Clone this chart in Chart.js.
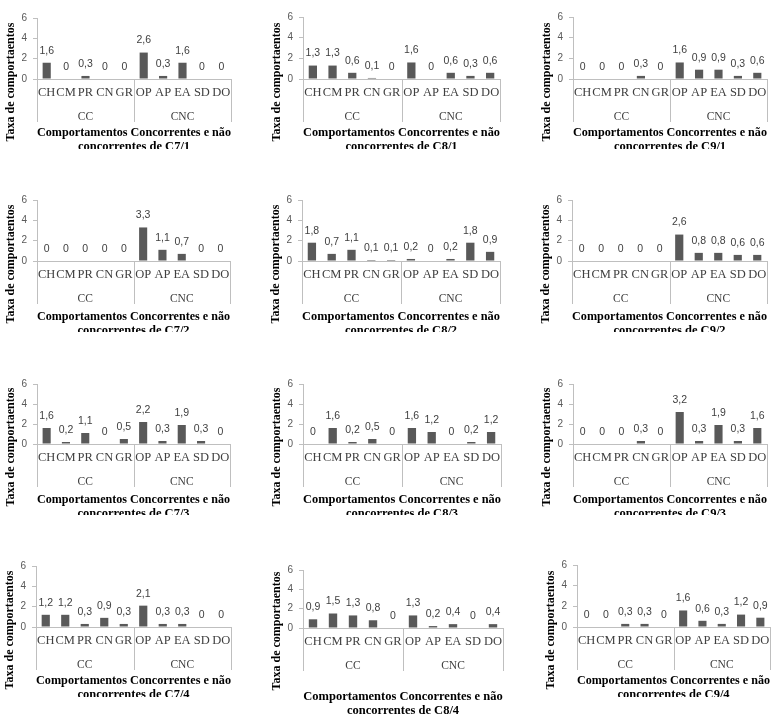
<!DOCTYPE html>
<html><head><meta charset="utf-8">
<script src="https://cdn.jsdelivr.net/npm/chart.js@4.4.0/dist/chart.umd.min.js"></script>
<style>
html,body{margin:0;padding:0;background:#fff;}
body{width:774px;height:714px;position:relative;overflow:hidden;}
.w{position:absolute;overflow:hidden;}
canvas{display:block;}
</style></head><body>
<script>
// ---------- data ----------
const categories = ['CH','CM','PR','CN','GR','OP','AP','EA','SD','DO'];
const groups = ['CC','CNC'];
const groupSizes = [5,5];
const yTitle = 'Taxa de comportaentos';
const xTitleLine1 = 'Comportamentos Concorrentes e não';
const panelNames = ['C7/1','C8/1','C9/1','C7/2','C8/2','C9/2','C7/3','C8/3','C9/3','C7/4','C8/4','C9/4'];

const c7_1 = [1.6,0,0.3,0,0,2.6,0.3,1.6,0,0];
const c8_1 = [1.3,1.3,0.6,0.1,0,1.6,0,0.6,0.3,0.6];
const c9_1 = [0,0,0,0.3,0,1.6,0.9,0.9,0.3,0.6];
const c7_2 = [0,0,0,0,0,3.3,1.1,0.7,0,0];
const c8_2 = [1.8,0.7,1.1,0.1,0.1,0.2,0,0.2,1.8,0.9];
const c9_2 = [0,0,0,0,0,2.6,0.8,0.8,0.6,0.6];
const c7_3 = [1.6,0.2,1.1,0,0.5,2.2,0.3,1.9,0.3,0];
const c8_3 = [0,1.6,0.2,0.5,0,1.6,1.2,0,0.2,1.2];
const c9_3 = [0,0,0,0.3,0,3.2,0.3,1.9,0.3,1.6];
const c7_4 = [1.2,1.2,0.3,0.9,0.3,2.1,0.3,0.3,0,0];
const c8_4 = [0.9,1.5,1.3,0.8,0,1.3,0.2,0.4,0,0.4];
const c9_4 = [0,0,0.3,0.3,0,1.6,0.6,0.3,1.2,0.9];
const panelValues = [c7_1,c8_1,c9_1,c7_2,c8_2,c9_2,c7_3,c8_3,c9_3,c7_4,c8_4,c9_4];

// ---------- layout (plot area boxes) ----------
const boxes = [
  {L:37, T:18, B:79, R:231, clip:70, tpb:15},
  {L:303,T:17, B:79, R:500, clip:70, tpb:15},
  {L:573,T:17, B:79, R:767, clip:70, tpb:15},
  {L:37, T:200,B:261,R:230, clip:71, tpb:13},
  {L:302,T:200,B:261,R:500, clip:71, tpb:13},
  {L:572,T:200,B:261,R:767, clip:71, tpb:13},
  {L:37, T:384,B:444,R:230, clip:71, tpb:13},
  {L:303,T:384,B:444,R:501, clip:71, tpb:13},
  {L:573,T:384,B:444,R:767, clip:71, tpb:13},
  {L:36, T:566,B:627,R:231, clip:70, tpb:15},
  {L:303,T:570,B:628,R:503, clip:90, tpb:0},
  {L:577,T:565,B:627,R:770, clip:70, tpb:15}
];

const SERIF = '"Liberation Serif", "Times New Roman", serif';
const SANS = '"Liberation Sans", Arial, sans-serif';
const AX = '#bfbfbf';
const TXT = '#404040';
const BAR = '#595959';
const PADL = 40, PADT = 10, EXTRA = 90, X1H = 26;

const sepPlugin = {
  id:'sep',
  afterDraw(chart){
    const {ctx, chartArea:a, scales:{x}} = chart;
    const k = groupSizes[0];
    const mid = (x.getPixelForValue(k-1) + x.getPixelForValue(k)) / 2;
    ctx.save();
    ctx.strokeStyle = AX; ctx.lineWidth = 1;
    [a.left, mid, a.right].forEach(px => {
      const xx = Math.round(px) + 0.5;
      ctx.beginPath(); ctx.moveTo(xx, a.bottom); ctx.lineTo(xx, a.bottom + 43); ctx.stroke();
    });
    ctx.restore();
  }
};
const valuePlugin = {
  id:'vals',
  afterDatasetsDraw(chart){
    const ctx = chart.ctx;
    const meta = chart.getDatasetMeta(0);
    const vals = chart.data.datasets[0].data;
    ctx.save();
    ctx.font = '10.5px ' + SANS;
    ctx.fillStyle = TXT; ctx.textAlign = 'center'; ctx.textBaseline = 'middle';
    meta.data.forEach((el,k) => { ctx.fillText(String(vals[k]).replace('.', ','), el.x, el.y - 12); });
    ctx.restore();
  }
};
const yTitlePlugin = {
  id:'ytitle',
  afterDraw(chart){
    const {ctx, chartArea:a} = chart;
    ctx.save();
    ctx.translate(a.left - 26, a.bottom + 3);
    ctx.rotate(-Math.PI/2);
    ctx.font = 'bold 12px ' + SERIF;
    ctx.fillStyle = '#000'; ctx.textAlign = 'center'; ctx.textBaseline = 'middle';
    ctx.fillText(yTitle, 0, 0);
    ctx.restore();
  }
};

boxes.forEach((p, i) => {
  const plotW = p.R - p.L, plotH = p.B - p.T;
  const W = PADL + plotW + 4, H = PADT + plotH + EXTRA;
  const wrap = document.createElement('div');
  wrap.className = 'w';
  wrap.style.left = (p.L - PADL) + 'px';
  wrap.style.top = (p.T - PADT) + 'px';
  wrap.style.width = W + 'px';
  wrap.style.height = (PADT + plotH + p.clip) + 'px';
  const cv = document.createElement('canvas');
  cv.width = W; cv.height = H;
  cv.style.width = W + 'px'; cv.style.height = H + 'px';
  wrap.appendChild(cv);
  document.body.appendChild(wrap);

  new Chart(cv, {
    type:'bar',
    data:{labels:categories, datasets:[{data:panelValues[i], backgroundColor:BAR, borderWidth:0, categoryPercentage:1, barPercentage:0.42}]},
    options:{
      responsive:false, animation:false, devicePixelRatio:1,
      layout:{padding:{left:0, top:PADT, right:4, bottom:0}},
      plugins:{legend:{display:false}, tooltip:{enabled:false}},
      scales:{
        x:{type:'category', position:'bottom', weight:0, offset:true,
           grid:{display:false, drawTicks:false},
           border:{display:true, color:AX, width:1},
           ticks:{font:{family:SERIF, size:12.5, lineHeight:1}, color:TXT, padding:7, maxRotation:0, minRotation:0, autoSkip:false},
           afterFit(s){ s.height = X1H; s.paddingLeft = 0; s.paddingRight = 0; }},
        x2:{type:'category', labels:groups, position:'bottom', weight:1, offset:true,
           grid:{display:false, drawTicks:false},
           border:{display:false},
           ticks:{font:{family:SERIF, size:11.5, lineHeight:1}, color:TXT, padding:6.5, maxRotation:0, minRotation:0, autoSkip:false},
           title:{display:true, text:[xTitleLine1, 'concorrentes de ' + panelNames[i]],
                  font:{family:SERIF, size:12.5, weight:'bold', lineHeight:1.12}, color:'#000',
                  padding:{top:0, bottom:p.tpb}},
           afterFit(s){ s.height = EXTRA - X1H; s.paddingLeft = 0; s.paddingRight = 0; }},
        y:{min:0, max:6,
           ticks:{stepSize:2, font:{family:SANS, size:10}, color:'#595959', padding:6},
           grid:{drawOnChartArea:false, drawTicks:true, tickLength:4, color:AX},
           border:{display:true, color:AX, width:1},
           afterFit(s){ s.width = PADL; s.paddingTop = 0; s.paddingBottom = 0; }}
      }
    },
    plugins:[sepPlugin, valuePlugin, yTitlePlugin]
  });
});
</script>
</body></html>
